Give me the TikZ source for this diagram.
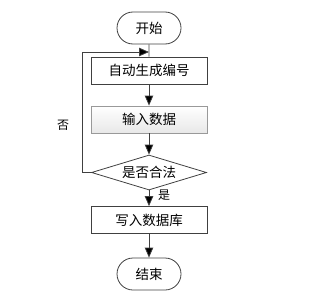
\documentclass[tikz,border=0pt]{standalone}
\usepackage{fontspec}
\setmainfont{Noto Sans CJK SC}
\usetikzlibrary{shapes.geometric,shapes.misc,arrows.meta,shadows}
\definecolor{linec}{HTML}{404040}
\tikzset{
  every node/.style={font=\fontsize{13.5}{15}\selectfont},
  term/.style={draw=linec, line width=0.8pt, rounded rectangle, minimum width=64pt, minimum height=32pt, inner sep=0pt},
  procbox/.style={draw=linec, line width=0.8pt, rectangle, minimum width=116pt, minimum height=27pt, inner sep=0pt},
  shadebox/.style={draw=gray!80, line width=0.8pt, rectangle, minimum width=116pt, minimum height=27pt, inner sep=0pt, top color=white, bottom color=gray!18, drop shadow={opacity=0.25, shadow xshift=1.2pt, shadow yshift=-1.2pt}},
  decide/.style={draw=linec, line width=0.8pt, diamond, aspect=3.3, minimum width=115pt, minimum height=35pt, inner sep=0pt},
  conn/.style={draw=linec, line width=0.8pt, -{Triangle[length=10pt,width=8.5pt,fill=black]}},
  lbl/.style={font=\fontsize{12}{13}\selectfont}
}
\begin{document}
\begin{tikzpicture}[x=1pt,y=-1pt]
\useasboundingbox (0,0) rectangle (318,297);
\node[term] (start) at (149,28) {开始};
\node[procbox] (gen) at (149,70.5) {自动生成编号};
\node[shadebox] (input) at (149,119.5) {输入数据};
\node[decide] (check) at (149,172.5) {是否合法};
\node[procbox] (write) at (149,220) {写入数据库};
\node[term] (stop) at (149,274) {结束};
\coordinate (merge) at (149,52);
\coordinate (lbot) at (82,172.5);
\coordinate (ltop) at (82,52);
\draw[draw=linec, line width=0.8pt] (start) -- (gen);
\draw[conn] (gen) -- (input);
\draw[conn] (input) -- (check);
\draw[conn] (check) -- (write);
\draw[conn] (write) -- (stop);
\draw[conn] (check.west) -- (lbot) -- (ltop) -- (merge);
\node[lbl] (no) at (63,125) {否};
\node[lbl] (yes) at (164,195) {是};
\end{tikzpicture}
\end{document}
